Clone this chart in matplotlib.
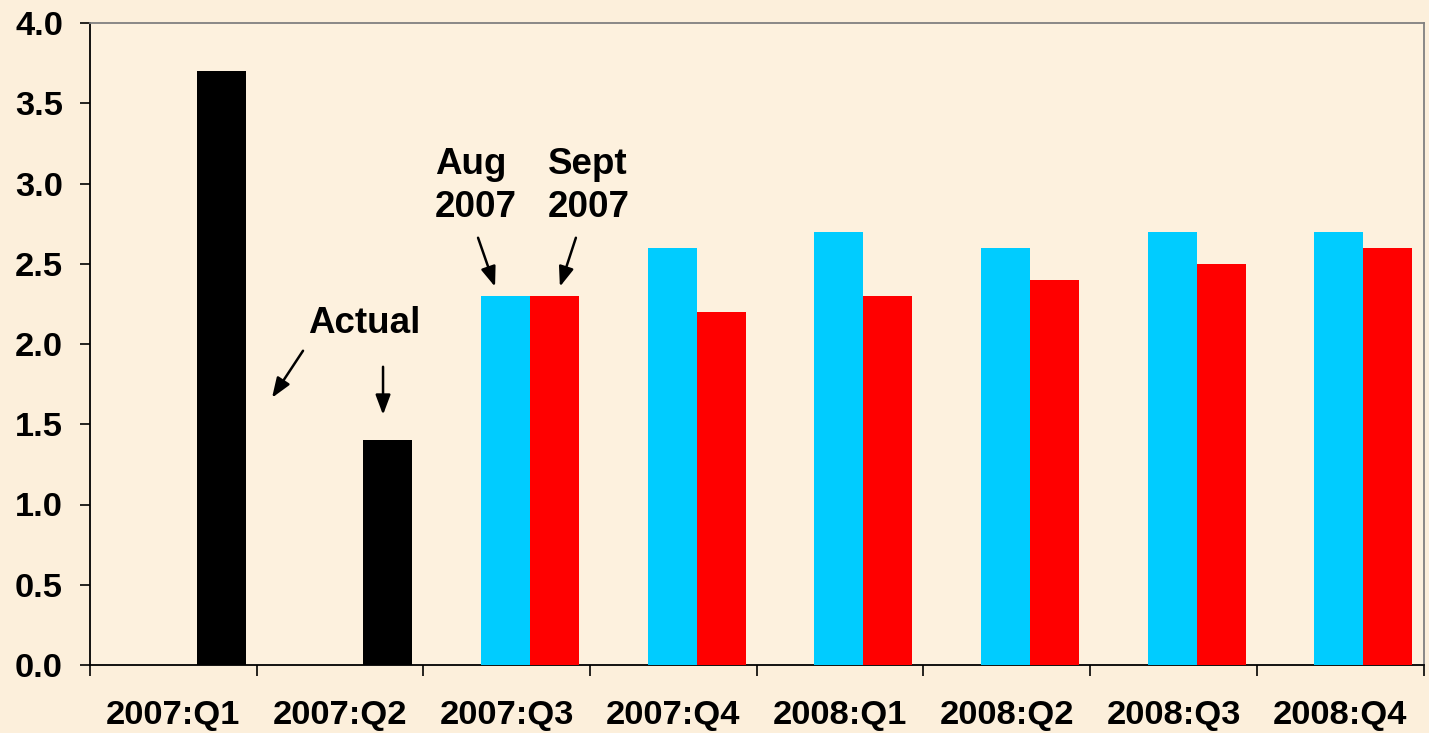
import matplotlib
matplotlib.use("Agg")
import matplotlib.pyplot as plt
import numpy as np

categories = ["2007:Q1", "2007:Q2", "2007:Q3", "2007:Q4",
              "2008:Q1", "2008:Q2", "2008:Q3", "2008:Q4"]
actual = [3.7, 1.4, None, None, None, None, None, None]
aug_2007 = [None, None, 2.3, 2.6, 2.7, 2.6, 2.7, 2.7]
sept_2007 = [None, None, 2.3, 2.2, 2.3, 2.4, 2.5, 2.6]
yticks = [0.0, 0.5, 1.0, 1.5, 2.0, 2.5, 3.0, 3.5, 4.0]

plt.rcParams['font.family'] = ['Liberation Sans', 'DejaVu Sans']
plt.rcParams['font.weight'] = 'bold'

bg = '#FCEFDB'
fig = plt.figure(figsize=(14.29, 7.33), dpi=100, facecolor=bg)
ax = fig.add_axes([90/1429, 68/733, (1423.5-90)/1429, (665-23)/733])
ax.set_facecolor('#FDF1DE')

x = np.arange(len(categories))
w = 0.294
off_aug = -0.007
off_sept = 0.287

def vals(lst):
    return [np.nan if v is None else v for v in lst]

ax.bar(x + off_aug, vals(aug_2007), width=w, color='#00CCFF', linewidth=0, zorder=3)
ax.bar(x + off_sept, vals(sept_2007), width=w, color='#FF0000', linewidth=0, zorder=3)
ax.bar(x + off_sept, vals(actual), width=w, color='#000000', linewidth=0, zorder=3)

ax.set_xlim(-0.5, len(categories) - 0.5)
ax.set_ylim(0, 4.0)
ax.set_yticks(yticks)
ax.set_yticklabels([f"{v:.1f}" for v in yticks], fontsize=24.8, fontweight='bold')
ax.set_xticks(x)
ax.set_xticklabels(categories, fontsize=24.8, fontweight='bold')
ax.set_xticks(np.arange(len(categories) + 1) - 0.5, minor=True)
ax.tick_params(axis='x', which='major', length=0, pad=25)
ax.tick_params(axis='x', which='minor', length=8, width=1.2, direction='out', color='black')
ax.tick_params(axis='y', length=7.5, width=1.2, direction='out', pad=12)

for s in ['left', 'bottom']:
    ax.spines[s].set_color('black')
    ax.spines[s].set_linewidth(1.3)
for s in ['top', 'right']:
    ax.spines[s].set_color('#808080')
    ax.spines[s].set_linewidth(1.3)

afs = 26.5
ax.text(0.808, 2.07, "Actual", fontsize=afs, fontweight='bold', ha='left', va='baseline')
ax.text(1.570, 2.793, "Aug\n2007", fontsize=afs, fontweight='bold', ha='left', va='baseline',
        linespacing=1.3)
ax.text(2.247, 2.793, "Sept\n2007", fontsize=afs, fontweight='bold', ha='left', va='baseline',
        linespacing=1.3)

arrowprops = dict(arrowstyle='-|>,head_length=1.2,head_width=0.45', color='black', lw=1.8,
                  shrinkA=0, shrinkB=0)
arrows = [((0.778, 1.958), (0.592, 1.665)),
          ((1.258, 1.858), (1.258, 1.559)),
          ((1.828, 2.662), (1.930, 2.357)),
          ((2.415, 2.662), (2.319, 2.357))]
for tail, tip in arrows:
    ax.annotate("", xy=tip, xytext=tail, arrowprops=arrowprops)

fig.savefig("out.png", dpi=100, facecolor=bg)
